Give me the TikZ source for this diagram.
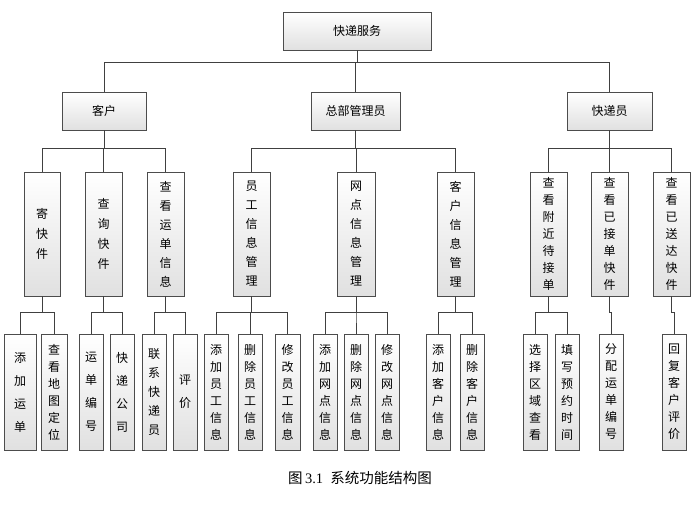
\documentclass[tikz,border=0pt]{standalone}
\usepackage{fontspec}
\setmainfont{Liberation Serif}
\newfontfamily\cjk{Noto Sans CJK SC}
\usetikzlibrary{shadows}
\tikzset{bx/.style={draw=black!70,line width=0.6pt,top color=white,bottom color=black!12,
  drop shadow={shadow xshift=1.2pt,shadow yshift=-1.2pt,fill=black!35},
  inner sep=0pt,align=center},
  ln/.style={draw=black!75,line width=0.6pt}}
\newcommand\bx[7]{\node[bx,minimum width=#4pt-#2pt,minimum height=#5pt-#3pt,
  font=\cjk\fontsize{12}{#7}\selectfont] (#1) at ({(#2+#4)/2},{(#3+#5)/2}) {#6};}
\begin{document}
\begin{tikzpicture}[x=1pt,y=-1pt]
\useasboundingbox[fill=white] (0,0) rectangle (700,520);
\bx{root}{283}{12}{431}{50}{快递服务}{13}
\bx{kh}{62}{92}{146}{130}{客户}{13}
\bx{zb}{311}{92}{400}{130}{总部管理员}{13}
\bx{ky}{567}{92}{652}{130}{快递员}{13}
\bx{a1}{24}{172}{60}{296}{寄\\快\\件}{20}
\bx{a2}{85}{172}{122}{296}{查\\询\\快\\件}{20}
\bx{a3}{147}{172}{184}{296}{查\\看\\运\\单\\信\\息}{19}
\bx{b1}{233}{172}{270}{296}{员\\工\\信\\息\\管\\理}{19}
\bx{b2}{337}{172}{375}{296}{网\\点\\信\\息\\管\\理}{19}
\bx{b3}{437}{172}{474}{296}{客\\户\\信\\息\\管\\理}{19}
\bx{c1}{530}{172}{567}{296}{查\\看\\附\\近\\待\\接\\单}{17}
\bx{c2}{591}{172}{628}{296}{查\\看\\已\\接\\单\\快\\件}{17}
\bx{c3}{653}{172}{690}{296}{查\\看\\已\\送\\达\\快\\件}{17}
\bx{l1}{4}{334}{36}{450}{添\\加\\运\\单}{23}
\bx{l2}{41}{334}{67}{450}{查\\看\\地\\图\\定\\位}{17}
\bx{l3}{79}{334}{103}{450}{运\\单\\编\\号}{23}
\bx{l4}{110}{334}{134}{450}{快\\递\\公\\司}{23}
\bx{l5}{142}{334}{166}{450}{联\\系\\快\\递\\员}{19}
\bx{l6}{173}{334}{197}{450}{评\\价}{23}
\bx{l7}{204}{334}{228}{450}{添\\加\\员\\工\\信\\息}{17}
\bx{l8}{238}{334}{262}{450}{删\\除\\员\\工\\信\\息}{17}
\bx{l9}{275}{334}{300}{450}{修\\改\\员\\工\\信\\息}{17}
\bx{l10}{313}{334}{337}{450}{添\\加\\网\\点\\信\\息}{17}
\bx{l11}{344}{334}{368}{450}{删\\除\\网\\点\\信\\息}{17}
\bx{l12}{375}{334}{399}{450}{修\\改\\网\\点\\信\\息}{17}
\bx{l13}{426}{334}{450}{450}{添\\加\\客\\户\\信\\息}{17}
\bx{l14}{460}{334}{484}{450}{删\\除\\客\\户\\信\\息}{17}
\bx{l15}{523}{334}{547}{450}{选\\择\\区\\域\\查\\看}{17}
\bx{l16}{555}{334}{579}{450}{填\\写\\预\\约\\时\\间}{17}
\bx{l17}{599}{334}{623}{450}{分\\配\\运\\单\\编\\号}{17}
\bx{l18}{662}{334}{686}{450}{回\\复\\客\\户\\评\\价}{17}
\foreach \p/\c in {root/kh,root/zb,root/ky} \draw[ln] (\p.south) -- ++(0,12) -| (\c.north);
\foreach \p/\c in {kh/a1,kh/a2,kh/a3,zb/b1,zb/b2,zb/b3,ky/c1,ky/c2,ky/c3} \draw[ln] (\p.south) -- ++(0,18) -| (\c.north);
\foreach \p/\c in {a1/l1,a1/l2,a2/l3,a2/l4,a3/l5,a3/l6,b1/l7,b1/l8,b1/l9,b2/l10,b2/l11,b2/l12,b3/l13,b3/l14,c1/l15,c1/l16,c2/l17,c3/l18} \draw[ln] (\p.south) -- ++(0,16) -| (\c.north);
\node[font=\fontsize{14.5}{16}\selectfont] (cap) at (360,478) {{\cjk 图}\,3.1\ \ {\cjk 系统功能结构图}};
\end{tikzpicture}
\end{document}
